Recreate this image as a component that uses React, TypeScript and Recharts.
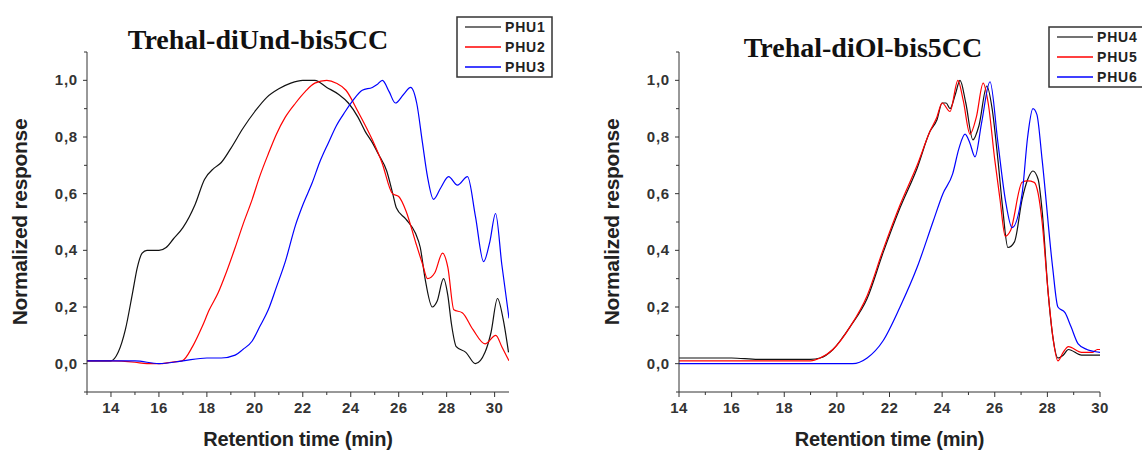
import { LineChart, Line, XAxis, YAxis } from "recharts";

// left panel: Trehal-diUnd-bis5CC
const phu1Time = [13, 13.5, 14, 14.3, 14.6, 14.9, 15.1, 15.3, 15.5, 16.0, 16.3, 16.6, 17.0, 17.5, 17.9, 18.3, 18.6, 19.0, 19.5, 20.0, 20.5, 21.0, 21.5, 22.0, 22.5, 23.0, 23.5, 23.9, 24.3, 24.6, 24.9, 25.15, 25.5, 25.75, 25.9, 26.3, 26.7, 26.9, 27.1, 27.4, 27.6, 27.87, 28.05, 28.2, 28.4, 28.8, 29.2, 29.6, 29.85, 30.12, 30.35, 30.58];
const phu1Value = [0.01, 0.01, 0.01, 0.04, 0.12, 0.25, 0.34, 0.39, 0.4, 0.4, 0.41, 0.44, 0.48, 0.56, 0.65, 0.69, 0.71, 0.76, 0.83, 0.89, 0.94, 0.97, 0.99, 1.0, 1.0, 0.975, 0.95, 0.92, 0.87, 0.82, 0.78, 0.74, 0.68, 0.6, 0.55, 0.51, 0.46, 0.41, 0.3, 0.2, 0.22, 0.3, 0.24, 0.14, 0.06, 0.04, 0.0, 0.04, 0.11, 0.23, 0.16, 0.04];

const phu2Time = [13, 14, 15, 15.5, 16, 16.5, 16.97, 17.4, 17.8, 18.1, 18.47, 18.8, 19.18, 19.5, 19.89, 20.2, 20.56, 20.9, 21.27, 21.7, 22.1, 22.5, 23.0, 23.4, 23.8, 24.3, 24.9, 25.3, 25.74, 26.0, 26.3, 26.7, 27.0, 27.2, 27.5, 27.83, 28.05, 28.3, 28.65, 29.1, 29.6, 30.05, 30.3, 30.6];
const phu2Value = [0.01, 0.01, 0.005, 0.0, 0.0, 0.005, 0.01, 0.06, 0.13, 0.19, 0.25, 0.32, 0.41, 0.49, 0.58, 0.66, 0.74, 0.81, 0.87, 0.92, 0.96, 0.99, 1.0, 0.99, 0.965, 0.89, 0.79, 0.71, 0.6, 0.59, 0.54, 0.43, 0.35, 0.3, 0.32, 0.39, 0.34, 0.19, 0.18, 0.12, 0.07, 0.1, 0.06, 0.01];

const phu3Time = [13, 14, 15, 16, 17, 18, 18.6, 19.18, 19.5, 19.89, 20.2, 20.56, 20.9, 21.27, 21.7, 22.0, 22.4, 22.7, 23.07, 23.4, 23.77, 24.1, 24.48, 24.9, 25.1, 25.32, 25.6, 25.86, 26.2, 26.5, 26.75, 26.99, 27.2, 27.45, 27.75, 28.08, 28.45, 28.87, 29.2, 29.54, 29.8, 30.04, 30.3, 30.6];
const phu3Value = [0.01, 0.01, 0.01, 0.0, 0.01, 0.02, 0.02, 0.03, 0.05, 0.08, 0.13, 0.19, 0.27, 0.36, 0.49, 0.56, 0.64, 0.71, 0.78, 0.84, 0.89, 0.93, 0.965, 0.975, 0.985, 1.0, 0.96, 0.92, 0.95, 0.975, 0.92, 0.78, 0.66, 0.58, 0.62, 0.66, 0.63, 0.66, 0.52, 0.36, 0.43, 0.53, 0.35, 0.16];

// right panel: Trehal-diOl-bis5CC
const phu4Time = [14, 15, 16, 17, 18, 18.6, 19.0, 19.36, 19.85, 20.2, 20.5, 21.15, 21.75, 22.4, 23.05, 23.54, 23.8, 24.0, 24.15, 24.3, 24.5, 24.68, 24.9, 25.17, 25.4, 25.7, 25.9, 26.12, 26.3, 26.5, 26.75, 27.04, 27.25, 27.45, 27.65, 27.8, 28.03, 28.2, 28.4, 28.6, 28.8, 29.3, 29.9, 30];
const phu4Value = [0.02, 0.02, 0.02, 0.015, 0.015, 0.015, 0.015, 0.02, 0.05, 0.09, 0.13, 0.23, 0.39, 0.55, 0.69, 0.82, 0.86, 0.92, 0.92, 0.9, 0.95, 1.0, 0.92, 0.79, 0.84, 0.98, 0.9, 0.72, 0.55, 0.41, 0.43, 0.58, 0.65, 0.68, 0.65, 0.54, 0.25, 0.1, 0.02, 0.03, 0.05, 0.03, 0.03, 0.03];

const phu5Time = [14, 15, 16, 17, 18, 19.0, 19.36, 19.85, 20.5, 21.15, 21.75, 22.4, 23.05, 23.54, 23.8, 24.0, 24.3, 24.6, 24.8, 25.06, 25.3, 25.56, 25.75, 26.0, 26.2, 26.4, 26.6, 27.04, 27.25, 27.5, 27.65, 27.8, 28.03, 28.2, 28.4, 28.6, 28.8, 29.3, 29.7, 29.9, 30];
const phu5Value = [0.01, 0.01, 0.01, 0.01, 0.01, 0.01, 0.02, 0.05, 0.13, 0.24, 0.4, 0.56, 0.7, 0.82, 0.87, 0.92, 0.89, 1.0, 0.93, 0.81, 0.87, 0.99, 0.92, 0.72, 0.58, 0.45, 0.47, 0.64, 0.645, 0.64, 0.6, 0.5, 0.25, 0.1, 0.01, 0.04, 0.06, 0.04, 0.04, 0.05, 0.05];

const phu6Time = [14, 16, 18, 20, 20.6, 21.15, 21.75, 22.4, 23.05, 23.65, 24.03, 24.4, 24.64, 24.87, 25.05, 25.25, 25.5, 25.82, 26.12, 26.4, 26.66, 27.04, 27.25, 27.45, 27.6, 27.8, 28.2, 28.4, 28.67, 28.9, 29.17, 29.5, 30];
const phu6Value = [0.0, 0.0, 0.0, 0.0, 0.0, 0.02, 0.08, 0.2, 0.34, 0.5, 0.6, 0.67, 0.76, 0.81, 0.78, 0.73, 0.85, 0.995, 0.78, 0.58, 0.48, 0.6, 0.8, 0.9, 0.88, 0.72, 0.34, 0.2, 0.18, 0.13, 0.07, 0.05, 0.04];

const yTicks = [-0.1, 0, 0.1, 0.2, 0.3, 0.4, 0.5, 0.6, 0.7, 0.8, 0.9, 1.0, 1.1];
const yMajor = [0, 0.2, 0.4, 0.6, 0.8, 1.0];
const leftXTicks = [13, 14, 15, 16, 17, 18, 19, 20, 21, 22, 23, 24, 25, 26, 27, 28, 29, 30];
const rightXTicks = [14, 15, 16, 17, 18, 19, 20, 21, 22, 23, 24, 25, 26, 27, 28, 29, 30];

const toPoints = (ts: number[], vs: number[]) => ts.map((t, i) => ({ t, v: vs[i] }));

const AXIS = "#333";
const SANS = "'Liberation Sans', Arial, sans-serif";

function XTick(props: any) {
  const { x, y, payload } = props;
  const major = payload.value % 2 === 0;
  return (
    <g>
      <line x1={x} y1={y} x2={x} y2={y + (major ? 5 : 3)} stroke={AXIS} strokeWidth={1} />
      {major && (
        <text x={x} y={y + 21} textAnchor="middle" fontFamily={SANS} fontWeight="bold" fontSize={15} letterSpacing={0.4} fill="#333">
          {payload.value}
        </text>
      )}
    </g>
  );
}

function YTick(props: any) {
  const { x, y, payload } = props;
  const major = yMajor.some((m) => Math.abs(m - payload.value) < 1e-6);
  return (
    <g>
      <line x1={x} y1={y} x2={x - (major ? 4 : 3)} y2={y} stroke={AXIS} strokeWidth={1} />
      {major && (
        <text x={x - 9} y={y + 5} textAnchor="end" fontFamily={SANS} fontWeight="bold" fontSize={15} letterSpacing={0.8} fill="#333">
          {payload.value.toFixed(1).replace(".", ",")}
        </text>
      )}
    </g>
  );
}

type Series = { name: string; data: { t: number; v: number }[]; color: string };

function LegendBox({ series, x, y, w }: { series: Series[]; x: number; y: number; w: number }) {
  return (
    <svg style={{ position: "absolute", left: x, top: y }} width={w} height={62}>
      <rect x={1} y={1} width={w - 2} height={60} fill="#fff" stroke="#333" strokeWidth={1.5} />
      {series.map((s, i) => (
        <g key={s.name}>
          <line x1={9} x2={45} y1={11 + i * 20} y2={11 + i * 20} stroke={s.color === "#111" ? "#444" : s.color} strokeWidth={1.3} />
          <text x={49} y={16 + i * 20} fontFamily={SANS} fontWeight="bold" fontSize={14} letterSpacing={0.8} fill="#222">
            {s.name}
          </text>
        </g>
      ))}
    </svg>
  );
}

type Panel = {
  title: string;
  series: Series[];
  domain: [number, number];
  xTicks: number[];
  yWidth: number;
  right: number;
  titleX: number;
  titleY: number;
  legendX: number;
  legendY: number;
  legendW: number;
};

function Chart({ p }: { p: Panel }) {
  return (
    <div style={{ position: "relative", width: 571, height: 450 }}>
      <div
        style={{
          position: "absolute",
          left: p.titleX - 200,
          width: 400,
          top: p.titleY,
          textAlign: "center",
          fontFamily: "'Liberation Serif', 'Times New Roman', serif",
          fontWeight: "bold",
          fontSize: 28,
          color: "#111",
          lineHeight: "30px",
        }}
      >
        {p.title}
      </div>
      <LineChart width={571} height={450} margin={{ top: 52, right: p.right, left: 0, bottom: 0 }}>
        <XAxis
          type="number"
          dataKey="t"
          domain={p.domain}
          ticks={p.xTicks}
          allowDataOverflow
          height={58}
          tickSize={0}
          tickMargin={0}
          tickLine={false}
          stroke={AXIS}
          tick={<XTick />}
          interval={0}
          label={{
            value: "Retention time (min)",
            position: "insideBottom",
            offset: 4,
            style: { fontFamily: SANS, fontWeight: "bold", fontSize: 20, fill: "#222", letterSpacing: -0.2 },
          }}
        />
        <YAxis
          type="number"
          dataKey="v"
          domain={[-0.1, 1.1]}
          ticks={yTicks}
          allowDataOverflow
          width={p.yWidth}
          tickSize={0}
          tickMargin={0}
          tickLine={false}
          stroke={AXIS}
          tick={<YTick />}
          interval={0}
          label={{
            value: "Normalized response",
            angle: -90,
            position: "insideLeft",
            offset: p.yWidth - 67,
            style: { textAnchor: "middle", fontFamily: SANS, fontWeight: "bold", fontSize: 21, fill: "#222", letterSpacing: -0.3 },
          }}
        />
        {p.series.map((s) => (
          <Line
            key={s.name}
            data={s.data}
            dataKey="v"
            name={s.name}
            type="monotone"
            stroke={s.color}
            strokeWidth={1.2}
            dot={false}
            isAnimationActive={false}
          />
        ))}
      </LineChart>
      <LegendBox series={p.series} x={p.legendX} y={p.legendY} w={p.legendW} />
    </div>
  );
}

const leftPanel: Panel = {
  title: "Trehal-diUnd-bis5CC",
  series: [
    { name: "PHU1", data: toPoints(phu1Time, phu1Value), color: "#111" },
    { name: "PHU2", data: toPoints(phu2Time, phu2Value), color: "#ff0000" },
    { name: "PHU3", data: toPoints(phu3Time, phu3Value), color: "#0000ff" },
  ],
  domain: [13, 30.6],
  xTicks: leftXTicks,
  yWidth: 87,
  right: 62,
  titleX: 258,
  titleY: 25,
  legendX: 456,
  legendY: 16,
  legendW: 97,
};

const rightPanel: Panel = {
  title: "Trehal-diOl-bis5CC",
  series: [
    { name: "PHU4", data: toPoints(phu4Time, phu4Value), color: "#111" },
    { name: "PHU5", data: toPoints(phu5Time, phu5Value), color: "#ff0000" },
    { name: "PHU6", data: toPoints(phu6Time, phu6Value), color: "#0000ff" },
  ],
  domain: [14, 30],
  xTicks: rightXTicks,
  yWidth: 108,
  right: 42,
  titleX: 292,
  titleY: 33,
  legendX: 477,
  legendY: 26,
  legendW: 100,
};

export default function App() {
  return (
    <div style={{ position: "absolute", left: 0, top: 0, width: 1142, height: 450, overflow: "hidden", background: "#fff", display: "flex" }}>
      <Chart p={leftPanel} />
      <Chart p={rightPanel} />
    </div>
  );
}
